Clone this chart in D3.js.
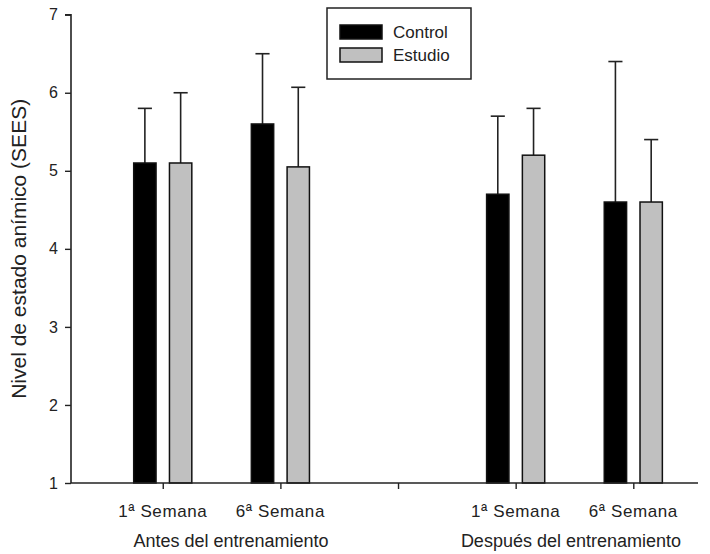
<!DOCTYPE html>
<html>
<head>
<meta charset="utf-8">
<script src="https://cdn.jsdelivr.net/npm/d3@7/dist/d3.min.js"></script>
<style>
  html, body { margin: 0; padding: 0; background: #fff; }
  svg { display: block; font-family: Arial, "Liberation Sans", sans-serif; }
</style>
</head>
<body>
<svg id="chart" width="710" height="554"></svg>
<script>
// Category slots along the x axis (slot 3 is an empty separator)
const slots = [1, 2, 4, 5];
const slotLabels = ["1ª Semana", "6ª Semana", "1ª Semana", "6ª Semana"];
const tickSlots = [1, 2, 3, 4, 5];
const groupLabels = ["Antes del entrenamiento", "Después del entrenamiento"];
const groupPositions = [1.58, 4.47];

// Series: mean and upper error value
const seriesNames = ["Control", "Estudio"];
const controlMean = [5.1, 5.6, 4.7, 4.6];
const controlUpper = [5.8, 6.5, 5.7, 6.4];
const estudioMean = [5.1, 5.05, 5.2, 4.6];
const estudioUpper = [6.0, 6.07, 5.8, 5.4];

const yTicks = [1, 2, 3, 4, 5, 6, 7];
const yTitle = "Nivel de estado anímico (SEES)";

const colors = { Control: "#000000", Estudio: "#c0c0c0" };
const offsets = { Control: -0.152, Estudio: 0.152 };

const svg = d3.select("#chart");
const x = d3.scaleLinear().domain([0.22, 5.55]).range([71, 698]);
const y = d3.scaleLinear().domain([1, 7]).range([483, 14.7]);

const barW = x(0.19) - x(0);
const capW = x(0.12) - x(0);

const rows = [];
slots.forEach((s, i) => {
  rows.push({ series: "Control", slot: s, mean: controlMean[i], upper: controlUpper[i] });
  rows.push({ series: "Estudio", slot: s, mean: estudioMean[i], upper: estudioUpper[i] });
});

// Error bars (upper only), drawn behind the bars
const eg = svg.append("g").attr("stroke", "#222").attr("stroke-width", 1.6).attr("fill", "none");
rows.forEach(d => {
  const cx = x(d.slot + offsets[d.series]);
  eg.append("line").attr("x1", cx).attr("x2", cx).attr("y1", y(d.mean)).attr("y2", y(d.upper));
  eg.append("line").attr("x1", cx - capW / 2).attr("x2", cx + capW / 2)
    .attr("y1", y(d.upper)).attr("y2", y(d.upper));
});

// Bars
svg.append("g").selectAll("rect").data(rows).join("rect")
  .attr("x", d => x(d.slot + offsets[d.series]) - barW / 2)
  .attr("width", barW)
  .attr("y", d => y(d.mean))
  .attr("height", d => y(1) - y(d.mean))
  .attr("fill", d => colors[d.series])
  .attr("stroke", "#111")
  .attr("stroke-width", 1.5);

// Y axis
const yAxis = svg.append("g").attr("transform", `translate(${x(0.22)},0)`)
  .call(d3.axisLeft(y).tickValues(yTicks).tickFormat(d3.format("d")).tickSize(6).tickPadding(7));
yAxis.select(".domain").attr("stroke", "#222").attr("stroke-width", 1.6)
  .attr("d", `M-6,${y(7)}H0V${y(1)}`);
yAxis.selectAll(".tick line").attr("stroke", "#222").attr("stroke-width", 1.4);
yAxis.selectAll(".tick text").attr("font-size", 16).attr("fill", "#222")
  .attr("font-family", "Arial, 'Liberation Sans', sans-serif");

// X axis
const xAxis = svg.append("g").attr("transform", `translate(0,${y(1)})`)
  .call(d3.axisBottom(x).tickValues(tickSlots).tickFormat("").tickSize(6));
xAxis.select(".domain").attr("stroke", "#222").attr("stroke-width", 1.6)
  .attr("d", `M${x(0.22)},0H${x(5.55)}`);
xAxis.selectAll(".tick line").attr("stroke", "#222").attr("stroke-width", 1.4);

// Category labels
svg.append("g").selectAll("text").data(slots).join("text")
  .attr("x", d => x(d))
  .attr("y", 517)
  .attr("text-anchor", "middle")
  .attr("font-size", 17)
  .attr("letter-spacing", 0.6)
  .attr("fill", "#222")
  .text((d, i) => slotLabels[i]);

svg.append("g").selectAll("text").data(groupLabels).join("text")
  .attr("x", (d, i) => x(groupPositions[i]))
  .attr("y", 547)
  .attr("text-anchor", "middle")
  .attr("font-size", 18)
  .attr("fill", "#222")
  .text(d => d);

// Y title
svg.append("text")
  .attr("transform", `translate(26,${y(4)}) rotate(-90)`)
  .attr("text-anchor", "middle")
  .attr("font-size", 21)
  .attr("fill", "#222")
  .text(yTitle);

// Legend
const lg = svg.append("g");
lg.append("rect").attr("x", 327).attr("y", 8).attr("width", 144).attr("height", 71)
  .attr("fill", "#fff").attr("stroke", "#222").attr("stroke-width", 1.5);
seriesNames.forEach((s, i) => {
  lg.append("rect").attr("x", 340).attr("y", 25 + i * 23).attr("width", 42).attr("height", 14)
    .attr("fill", colors[s]).attr("stroke", "#111").attr("stroke-width", 1.5);
  lg.append("text").attr("x", 393).attr("y", 38 + i * 23)
    .attr("font-size", 17).attr("fill", "#222").text(s);
});
</script>
</body>
</html>
